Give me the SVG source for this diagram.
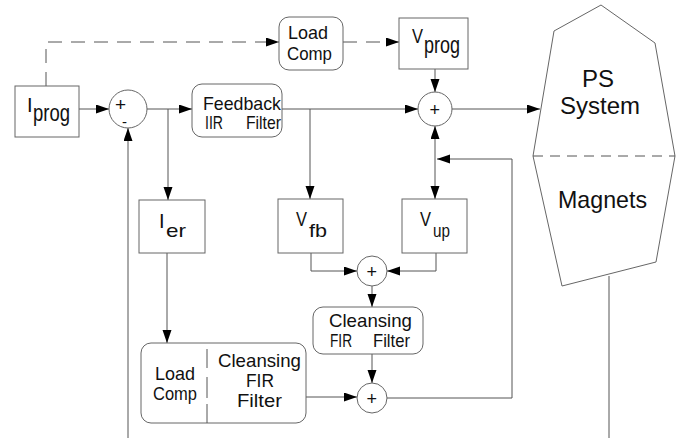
<svg xmlns="http://www.w3.org/2000/svg" width="677" height="438" viewBox="0 0 677 438">
<defs>
<marker id="ah" markerUnits="userSpaceOnUse" markerWidth="14" markerHeight="10" refX="13" refY="4.5" orient="auto-start-reverse"><path d="M0,0 L13,4.5 L0,9 z" fill="#000"/></marker>
<style>
.box{fill:#fff;stroke:#666;stroke-width:1}
.ln{fill:none;stroke:#555;stroke-width:1}
.dash{stroke-dasharray:14,9}
text{font-family:"Liberation Sans",Arial,sans-serif;fill:#111;font-size:19px}
.big{font-size:24px}
.sub{font-size:23px}
.pl{font-size:18px}
.cap{font-size:20px}
</style>
</defs>
<rect width="677" height="438" fill="#fff"/>
<g id="connectors">
<path class="ln" d="M79,109 H109" marker-end="url(#ah)"/>
<path class="ln" d="M128,438 V128" marker-end="url(#ah)"/>
<path class="ln" d="M147,109 H192" marker-end="url(#ah)"/>
<path class="ln" d="M168,109 V200" marker-end="url(#ah)"/>
<path class="ln" d="M282,109 H418" marker-end="url(#ah)"/>
<path class="ln" d="M310,109 V199" marker-end="url(#ah)"/>
<path class="ln dash" d="M46,86 V42 H279" marker-end="url(#ah)"/>
<path class="ln dash" d="M343,42 H399" marker-end="url(#ah)"/>
<path class="ln" d="M435,69 V92" marker-end="url(#ah)"/>
<path class="ln" d="M452,109 H540" marker-end="url(#ah)"/>
<path class="ln" d="M435,126 V199" marker-start="url(#ah)" marker-end="url(#ah)"/>
<path class="ln" d="M387,398 H512 V159 H437" marker-end="url(#ah)"/>
<path class="ln" d="M311,253 V271 H357" marker-end="url(#ah)"/>
<path class="ln" d="M436,253 V271 H387" marker-end="url(#ah)"/>
<path class="ln" d="M372,286 V307" marker-end="url(#ah)"/>
<path class="ln" d="M372,354 V383" marker-end="url(#ah)"/>
<path class="ln" d="M167,253 V343" marker-end="url(#ah)"/>
<path class="ln" d="M306,397 H357" marker-end="url(#ah)"/>
<path class="ln" d="M609,276 V438"/>
</g>
<g id="iprog">
<rect class="box" x="15" y="86" width="64" height="51"/>
<text x="27" y="112" class="cap">I</text>
<text x="33" y="121" class="sub" textLength="37" lengthAdjust="spacingAndGlyphs">prog</text>
</g>
<g id="sum1">
<circle class="box" cx="128" cy="109" r="19"/>
<text font-size="16"><tspan x="115" y="111">+</tspan><tspan x="122" y="127" font-size="15">-</tspan></text>
</g>
<g id="feedback">
<rect class="box" x="192" y="84" width="90" height="53" rx="10"/>
<text x="203" y="110" textLength="78" lengthAdjust="spacingAndGlyphs">Feedback</text>
<text x="205" y="129" textLength="18" lengthAdjust="spacingAndGlyphs">IIR</text>
<text x="246" y="129" textLength="35" lengthAdjust="spacingAndGlyphs">Filter</text>
</g>
<g id="loadcomp1">
<rect class="box" x="279" y="17" width="64" height="53" rx="10"/>
<text x="288" y="39" font-size="18" textLength="40" lengthAdjust="spacingAndGlyphs">Load</text>
<text x="287" y="60" font-size="18" textLength="45" lengthAdjust="spacingAndGlyphs">Comp</text>
</g>
<g id="vprog">
<rect class="box" x="399" y="18" width="69" height="51"/>
<text x="412" y="43" class="cap" textLength="11" lengthAdjust="spacingAndGlyphs">V</text>
<text x="424" y="53" class="sub" textLength="36" lengthAdjust="spacingAndGlyphs">prog</text>
</g>
<g id="sum2">
<circle class="box" cx="435" cy="109" r="17"/>
<text x="429.5" y="115.5" class="pl">+</text>
</g>
<g id="ps">
<polygon class="box" points="601,5 655,43 675,156 656,262 562,286 533,156 554,31"/>
<path class="ln" d="M533,156 H675" style="stroke-dasharray:10,7"/>
<text x="582" y="87" class="big" textLength="32" lengthAdjust="spacingAndGlyphs">PS</text>
<text x="560" y="114" class="big" textLength="80" lengthAdjust="spacingAndGlyphs">System</text>
<text x="558" y="208" class="big" textLength="89" lengthAdjust="spacingAndGlyphs">Magnets</text>
</g>
<g id="ier">
<rect class="box" x="139" y="200" width="66" height="53"/>
<text x="159" y="228" class="cap">I</text>
<text x="166" y="237" font-size="22" textLength="20" lengthAdjust="spacingAndGlyphs">er</text>
</g>
<g id="vfb">
<rect class="box" x="278" y="199" width="65" height="54"/>
<text x="296" y="226" class="cap" textLength="11" lengthAdjust="spacingAndGlyphs">V</text>
<text x="309" y="237" font-size="20" textLength="18" lengthAdjust="spacingAndGlyphs">fb</text>
</g>
<g id="vup">
<rect class="box" x="402" y="199" width="65" height="54"/>
<text x="420" y="226" class="cap" textLength="11" lengthAdjust="spacingAndGlyphs">V</text>
<text x="433" y="237" font-size="20.5" textLength="17" lengthAdjust="spacingAndGlyphs">up</text>
</g>
<g id="sum3">
<circle class="box" cx="372" cy="271" r="15"/>
<text x="366.5" y="277.5" class="pl">+</text>
</g>
<g id="cleansing1">
<rect class="box" x="313" y="307" width="110" height="47" rx="10"/>
<text x="329" y="327" textLength="83" lengthAdjust="spacingAndGlyphs">Cleansing</text>
<text x="330" y="346.5" font-size="18.5" textLength="22" lengthAdjust="spacingAndGlyphs">FIR</text>
<text x="373" y="346.5" font-size="18.5" textLength="37" lengthAdjust="spacingAndGlyphs">Filter</text>
</g>
<g id="sum4">
<circle class="box" cx="372" cy="398" r="15"/>
<text x="366.5" y="404.5" class="pl">+</text>
</g>
<g id="loadcleansing">
<rect class="box" x="141" y="343" width="165" height="80" rx="10"/>
<path class="ln" d="M207,349 V368 M207,377 V398 M207,404 V423"/>
<text x="155" y="380" textLength="40" lengthAdjust="spacingAndGlyphs">Load</text>
<text x="153" y="400" textLength="44" lengthAdjust="spacingAndGlyphs">Comp</text>
<text x="218" y="367" textLength="83" lengthAdjust="spacingAndGlyphs">Cleansing</text>
<text x="246" y="387" textLength="28" lengthAdjust="spacingAndGlyphs">FIR</text>
<text x="237" y="407" textLength="45" lengthAdjust="spacingAndGlyphs">Filter</text>
</g>
</svg>
